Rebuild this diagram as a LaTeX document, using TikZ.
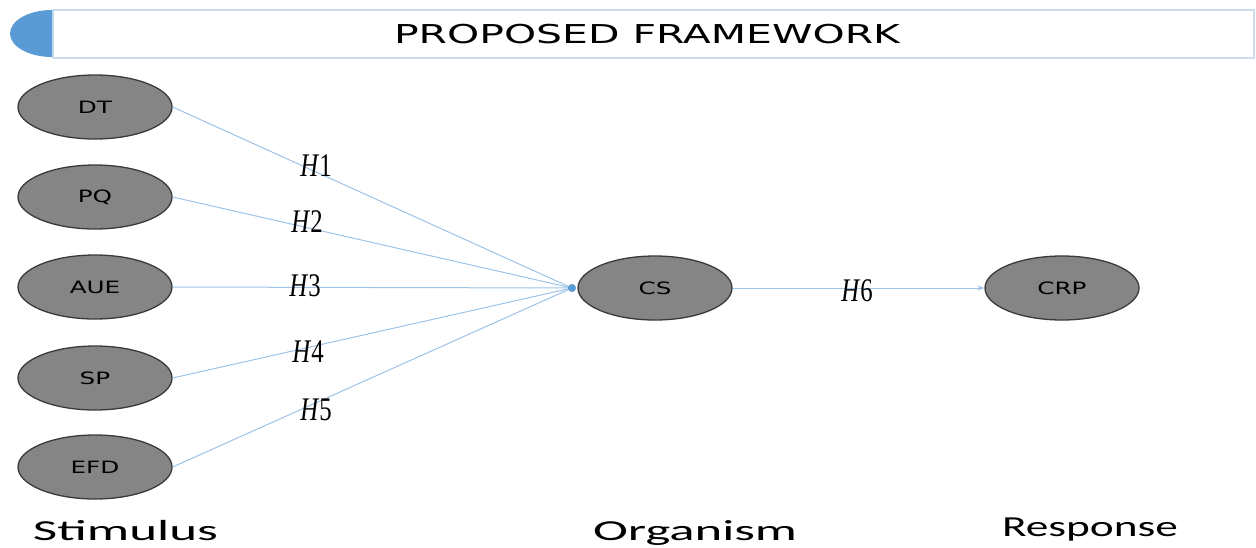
\documentclass[tikz,border=0pt]{standalone}
\usepackage{fontspec}
\usepackage{graphicx}
\usetikzlibrary{shapes.geometric,arrows.meta}
\newfontfamily\dejavu{DejaVu Sans}
\newfontfamily\carl{Carlito}
\newfontfamily\cam{Liberation Serif}
\definecolor{linec}{HTML}{9DC3E6}
\definecolor{dotc}{HTML}{5B9BD5}
\definecolor{barc}{HTML}{C9DCEE}
\definecolor{ellfill}{HTML}{858585}
\definecolor{ellbord}{HTML}{3A3A3A}
\tikzset{
  var/.style={ellipse, draw=ellbord, line width=1.3pt, fill=ellfill, minimum width=154pt, minimum height=64pt, inner sep=0pt, font=\dejavu\fontsize{17}{19}\selectfont},
  conn/.style={draw=linec, line width=1pt},
  hlab/.style={inner sep=0pt, anchor=center, font=\cam\fontsize{33}{35}\selectfont},
  stage/.style={inner sep=0pt, anchor=base, font=\carl\fontsize{29}{32}\selectfont}
}
\newcommand{\vt}[1]{\scalebox{1.45}[1]{#1}}
\newcommand{\hl}[1]{\scalebox{0.75}[1]{\textit{H}#1}}
\begin{document}
\begin{tikzpicture}[x=1pt,y=-1pt]
\useasboundingbox (0,0) rectangle (1256,547);
% title bar
\node[draw=barc, line width=1.5pt, fill=white, minimum width=1201pt, minimum height=48pt, inner sep=0pt, anchor=north west] (bar) at (52,9) {};
\begin{scope}
\clip (0,0) rectangle (52,60);
\fill[dotc] (52,33.5) ellipse[x radius=42, y radius=23.5];
\end{scope}
\node[inner sep=0pt, anchor=base, font=\dejavu\fontsize{26}{28}\selectfont] (title) at (647,43) {\resizebox{506pt}{\height}{PROPOSED FRAMEWORK}};
% variables
\node[var] (dt) at (95,107) {\vt{DT}};
\node[var] (pq) at (95,197) {\vt{PQ}};
\node[var] (aue) at (95,287) {\vt{AUE}};
\node[var] (sp) at (95,378) {\vt{SP}};
\node[var] (efd) at (95,467) {\vt{EFD}};
\node[var] (cs) at (655,288) {\vt{CS}};
\node[var] (crp) at (1062,288) {\vt{CRP}};
\coordinate (j) at (572,288);
% connectors
\draw[conn] (dt.east) -- (j);
\draw[conn] (pq.east) -- (j);
\draw[conn] (aue.east) -- (j);
\draw[conn] (sp.east) -- (j);
\draw[conn] (efd.east) -- (j);
\fill[dotc] (j) circle[radius=4pt];
\draw[conn, -{Stealth[length=7pt, width=5pt, fill=dotc]}, draw=linec] (cs.east) -- (crp.west);
% labels
\node[hlab] (h1) at (316,166) {\hl{1}};
\node[hlab] (h2) at (307,222) {\hl{2}};
\node[hlab] (h3) at (305,286) {\hl{3}};
\node[hlab] (h4) at (308,352) {\hl{4}};
\node[hlab] (h5) at (316,410) {\hl{5}};
\node[hlab] (h6) at (857,291) {\hl{6}};
% stages
\node[stage] (stim) at (125.5,540) {\resizebox{185pt}{\height}{Stimulus}};
\node[stage] (org) at (695,540) {\resizebox{204pt}{\height}{Organism}};
\node[stage] (resp) at (1090,536) {\resizebox{176pt}{\height}{Response}};
\end{tikzpicture}
\end{document}
